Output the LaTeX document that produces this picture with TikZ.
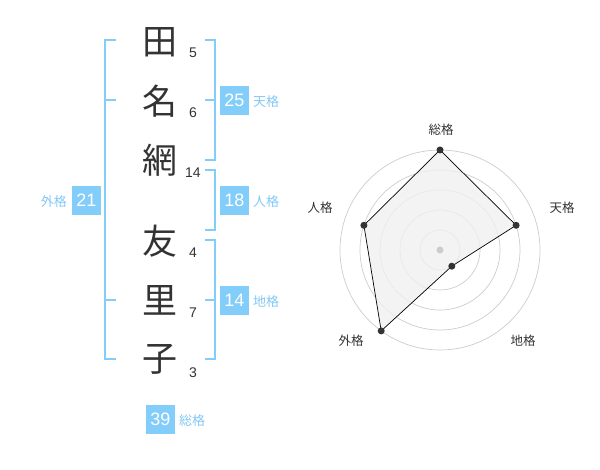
\documentclass[tikz,border=0pt]{standalone}
\usepackage{fontspec}
\setmainfont{Liberation Sans}
\newfontfamily\cjk{Noto Sans CJK JP}
\definecolor{brk}{RGB}{130,205,250}
\definecolor{boxc}{RGB}{130,205,250}
\definecolor{lbl}{RGB}{130,200,245}
\definecolor{ink}{RGB}{51,51,51}
\definecolor{ring}{RGB}{204,204,204}
\definecolor{fillg}{RGB}{240,240,240}
\begin{document}
\begin{tikzpicture}[x=1pt,y=-1pt,
  kanji/.style={font=\cjk\fontsize{35}{35}\selectfont,text=ink,inner sep=0pt},
  strokes/.style={font=\fontsize{14}{14}\selectfont,text=ink,inner sep=0pt},
  bracket/.style={draw=brk,line width=2pt},
  numbox/.style={fill=boxc,text=white,minimum width=29pt,minimum height=29pt,inner sep=0pt,font=\fontsize{18}{18}\selectfont},
  kaku/.style={font=\cjk\fontsize{13}{13}\selectfont,text=lbl,inner sep=0pt},
  axlbl/.style={font=\cjk\fontsize{12.5}{12.5}\selectfont,text=ink,inner sep=0pt},
  dot/.style={circle,fill=ink,inner sep=0pt,minimum size=7pt}]
\useasboundingbox (0,0) rectangle (600,470);
% kanji
\node[kanji] (k1) at (160,42) {田};
\node[kanji] (k2) at (160,101) {名};
\node[kanji] (k3) at (160,160) {網};
\node[kanji] (k4) at (160,241) {友};
\node[kanji] (k5) at (160,300) {里};
\node[kanji] (k6) at (160,359) {子};
% stroke counts
\node[strokes] (s1) at (193,52.5) {5};
\node[strokes] (s2) at (193,112.5) {6};
\node[strokes] (s3) at (193,173) {14};
\node[strokes] (s4) at (193,252.5) {4};
\node[strokes] (s5) at (193,313) {7};
\node[strokes] (s6) at (193,373) {3};
% left bracket (gaikaku)
\draw[bracket] (116,40) -- (105,40) -- (105,359.5) -- (116,359.5);
\draw[bracket] (105,100) -- (116,100);
\draw[bracket] (105,300) -- (116,300);
% right brackets
\draw[bracket] (205,40) -- (215,40) -- (215,160) -- (205,160);
\draw[bracket] (205,100) -- (215,100);
\draw[bracket] (205,170) -- (215,170) -- (215,230) -- (205,230);
\draw[bracket] (205,240) -- (215,240) -- (215,359.5) -- (205,359.5);
\draw[bracket] (205,300) -- (215,300);
% number boxes
\node[numbox] (b25) at (234.5,100.5) {25};
\node[kaku,anchor=west] (t25) at (253,102) {天格};
\node[numbox] (b18) at (234.5,200.5) {18};
\node[kaku,anchor=west] (t18) at (253,202) {人格};
\node[numbox] (b14) at (234.5,300.5) {14};
\node[kaku,anchor=west] (t14) at (253,302) {地格};
\node[numbox] (b21) at (86.5,200.5) {21};
\node[kaku,anchor=east] (t21) at (67,202) {外格};
\node[numbox] (b39) at (160.5,419.5) {39};
\node[kaku,anchor=west] (t39) at (179,421) {総格};
% radar chart
\coordinate (c) at (440,250);
\foreach \r in {20,40,60,80,100} \draw[ring,line width=0.7pt] (c) circle[radius=\r];
\coordinate (p1) at (440,150);
\coordinate (p2) at (516.1,225.3);
\coordinate (p3) at (451.8,266.2);
\coordinate (p4) at (381.2,330.9);
\coordinate (p5) at (363.9,225.3);
\filldraw[fill=fillg,fill opacity=0.8,draw=black,line width=0.7pt] (p1) -- (p2) -- (p3) -- (p4) -- (p5) -- cycle;
\fill[ring] (c) circle[radius=3.5];
\foreach \p in {p1,p2,p3,p4,p5} \node[dot] at (\p) {};
\node[axlbl] (a1) at (441,130) {総格};
\node[axlbl] (a2) at (562,208) {天格};
\node[axlbl] (a3) at (523,341) {地格};
\node[axlbl] (a4) at (351,341) {外格};
\node[axlbl] (a5) at (320,208) {人格};
\end{tikzpicture}
\end{document}
